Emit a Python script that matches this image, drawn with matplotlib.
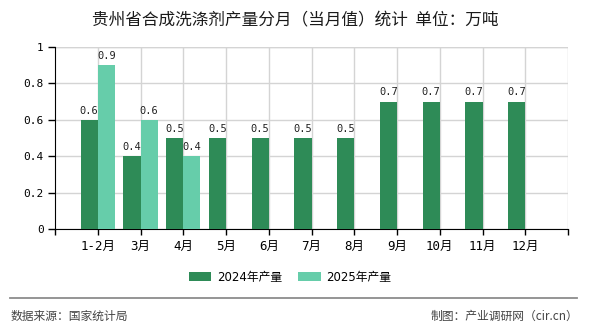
import numpy as np
import matplotlib
matplotlib.use("Agg")
import matplotlib.pyplot as plt
from matplotlib.lines import Line2D

plt.rcParams['font.family'] = ['DejaVu Sans Mono', 'Noto Sans CJK SC']

categories = ["1-2月", "3月", "4月", "5月", "6月", "7月", "8月", "9月", "10月", "11月", "12月"]
series_2024 = [0.6, 0.4, 0.5, 0.5, 0.5, 0.5, 0.5, 0.7, 0.7, 0.7, 0.7]
series_2025 = [0.9, 0.6, 0.4]
yticks = [0, 0.2, 0.4, 0.6, 0.8, 1]
ytick_labels = ["0", "0.2", "0.4", "0.6", "0.8", "1"]
title = "贵州省合成洗涤剂产量分月（当月值）统计  单位：万吨"
legend_labels = ["2024年产量", "2025年产量"]
source_left = "数据来源：国家统计局"
source_right = "制图：产业调研网（cir.cn）"

c2024 = "#2e8b57"
c2025 = "#66cdaa"

fig = plt.figure(figsize=(5.9, 3.3), dpi=100)
ax = fig.add_axes([55/590, 1-229/330, (568-55)/590, (229-47)/330])

x = np.arange(1, len(categories) + 1)
w = 0.4
b1 = ax.bar(x - w/2, series_2024, width=w, color=c2024, label=legend_labels[0], zorder=3)
x2 = x[:len(series_2025)]
b2 = ax.bar(x2 + w/2, series_2025, width=w, color=c2025, label=legend_labels[1], zorder=3)

for bars, vals in ((b1, series_2024), (b2, series_2025)):
    ax.bar_label(bars, labels=[f"{v:g}" for v in vals], padding=3, fontsize=7.5,
                 color="#222222", family=['DejaVu Sans Mono', 'Noto Sans CJK SC'], zorder=4)

ax.set_xlim(0, len(categories) + 1)
ax.set_ylim(0, 1)
ax.set_yticks(yticks)
ax.set_yticklabels(ytick_labels, fontsize=8)
ax.set_xticks(x)
ax.set_xticklabels(categories, fontsize=9)
ax.set_xticks([0, len(categories) + 1], minor=True)

ax.grid(True, axis='both', color="#d4d4d4", linewidth=1, zorder=0)
ax.axvline(len(categories) + 1, color="#d4d4d4", linewidth=1, zorder=0)
ax.axhline(1, color="#d4d4d4", linewidth=1, zorder=0)

for s in ("top", "right"):
    ax.spines[s].set_visible(False)
ax.spines["left"].set_color("black")
ax.spines["bottom"].set_color("black")
ax.tick_params(axis='y', which='major', length=5, width=1, pad=3, colors="black")
ax.tick_params(axis='x', which='both', length=4, width=1, pad=4, colors="black")

fig.text(0.5, 1-21/330, title, ha='center', va='center', fontsize=12,
         color="#1a1a1a", family=['Noto Sans CJK SC'], weight='medium')

fig.legend(handles=[b1, b2], labels=legend_labels, loc='center',
           bbox_to_anchor=(290/590, 1-277/330), ncol=2, frameon=False,
           handlelength=1.9, handleheight=0.7, handletextpad=0.45,
           columnspacing=1.4, prop={'family': ['DejaVu Sans', 'Noto Sans CJK SC'], 'size': 8.5})

fig.add_artist(Line2D([10/590, 577/590], [1-298/330, 1-298/330], color="#8c8c8c",
                      linewidth=1.3, transform=fig.transFigure))
fig.text(11/590, 1-316/330, source_left, ha='left', va='center', fontsize=8.5,
         color="#444444", family=['Noto Sans CJK SC'])
fig.text(578/590, 1-316/330, source_right, ha='right', va='center', fontsize=8.5,
         color="#444444", family=['Noto Sans CJK SC', 'DejaVu Sans'])

fig.savefig("out.png", dpi=100)
